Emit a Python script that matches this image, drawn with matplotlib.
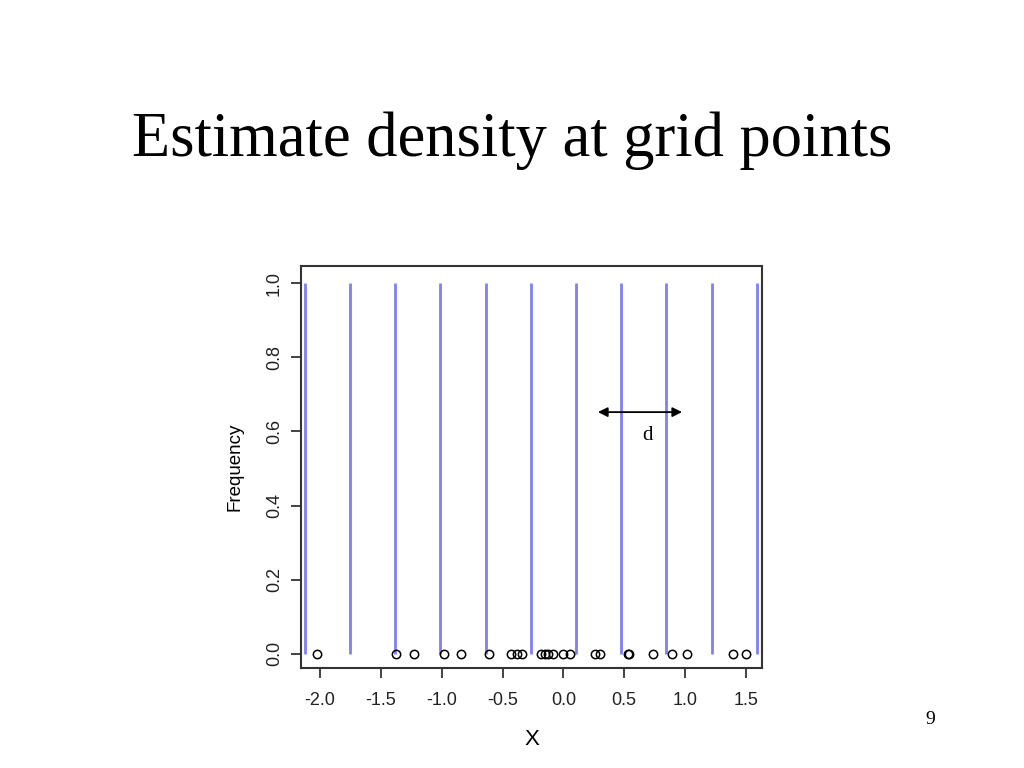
import matplotlib.pyplot as plt
import numpy as np

# observed sample values (drawn at y = 0)
x_obs = [-2.025, -1.375, -1.228, -0.981, -0.844, -0.609, -0.433, -0.384, -0.340,
         -0.187, -0.151, -0.127, -0.083, -0.001, 0.054, 0.260, 0.301, 0.531, 0.539,
         0.739, 0.890, 1.013, 1.396, 1.500]

# grid points where the density is estimated
grid_pts = [-2.124, -1.753, -1.381, -1.010, -0.639, -0.267, 0.104, 0.476, 0.847, 1.219, 1.590]

xticks = [-2.0, -1.5, -1.0, -0.5, 0.0, 0.5, 1.0, 1.5]
yticks = [0.0, 0.2, 0.4, 0.6, 0.8, 1.0]

fig = plt.figure(figsize=(10.24, 7.68), dpi=100)
fig.text(0.5, 1 - 156/768, "Estimate density at grid points", ha='center', va='baseline',
         family='Liberation Serif', fontsize=45)
fig.text(930/1024, 1 - 720/768, "9", ha='center', va='center',
         family='Liberation Serif', fontsize=14)

ax = fig.add_axes([301/1024, 1 - 668/768, 461/1024, 402/768])
ax.vlines(grid_pts, 0, 1, color='#8080f0', lw=2)
ax.plot(x_obs, np.zeros(len(x_obs)), 'o', mfc='none', mec='black', ms=6, mew=1.1)

ax.annotate('', xy=(0.975, 0.652), xytext=(0.284, 0.652),
            arrowprops=dict(arrowstyle='<|-|>', color='black', lw=1.3, mutation_scale=14,
                            shrinkA=0, shrinkB=0))
ax.text(0.695, 0.588, 'd', ha='center', va='center', family='Liberation Serif', fontsize=15)

ax.set_xlim(-2.156, 1.632)
ax.set_ylim(-0.038, 1.046)
ax.set_xticks(xticks)
ax.set_xticklabels(['%.1f' % t for t in xticks])
ax.set_yticks(yticks)
ax.set_yticklabels(['%.1f' % t for t in yticks], rotation=90, va='center')
for lab in ax.get_xticklabels() + ax.get_yticklabels():
    lab.set_family('Liberation Sans')
    lab.set_fontsize(13)
ax.tick_params(direction='out', length=7, width=1.2, colors='#222222')
ax.tick_params(axis='x', pad=10)
ax.tick_params(axis='y', pad=6)
for s in ax.spines.values():
    s.set_linewidth(1.5)
    s.set_color('#333333')
ax.set_xlabel('X', family='Liberation Sans', fontsize=16, labelpad=15)
ax.set_ylabel('Frequency', family='Liberation Sans', fontsize=13.5, labelpad=16)

plt.savefig('out.png', dpi=100)
